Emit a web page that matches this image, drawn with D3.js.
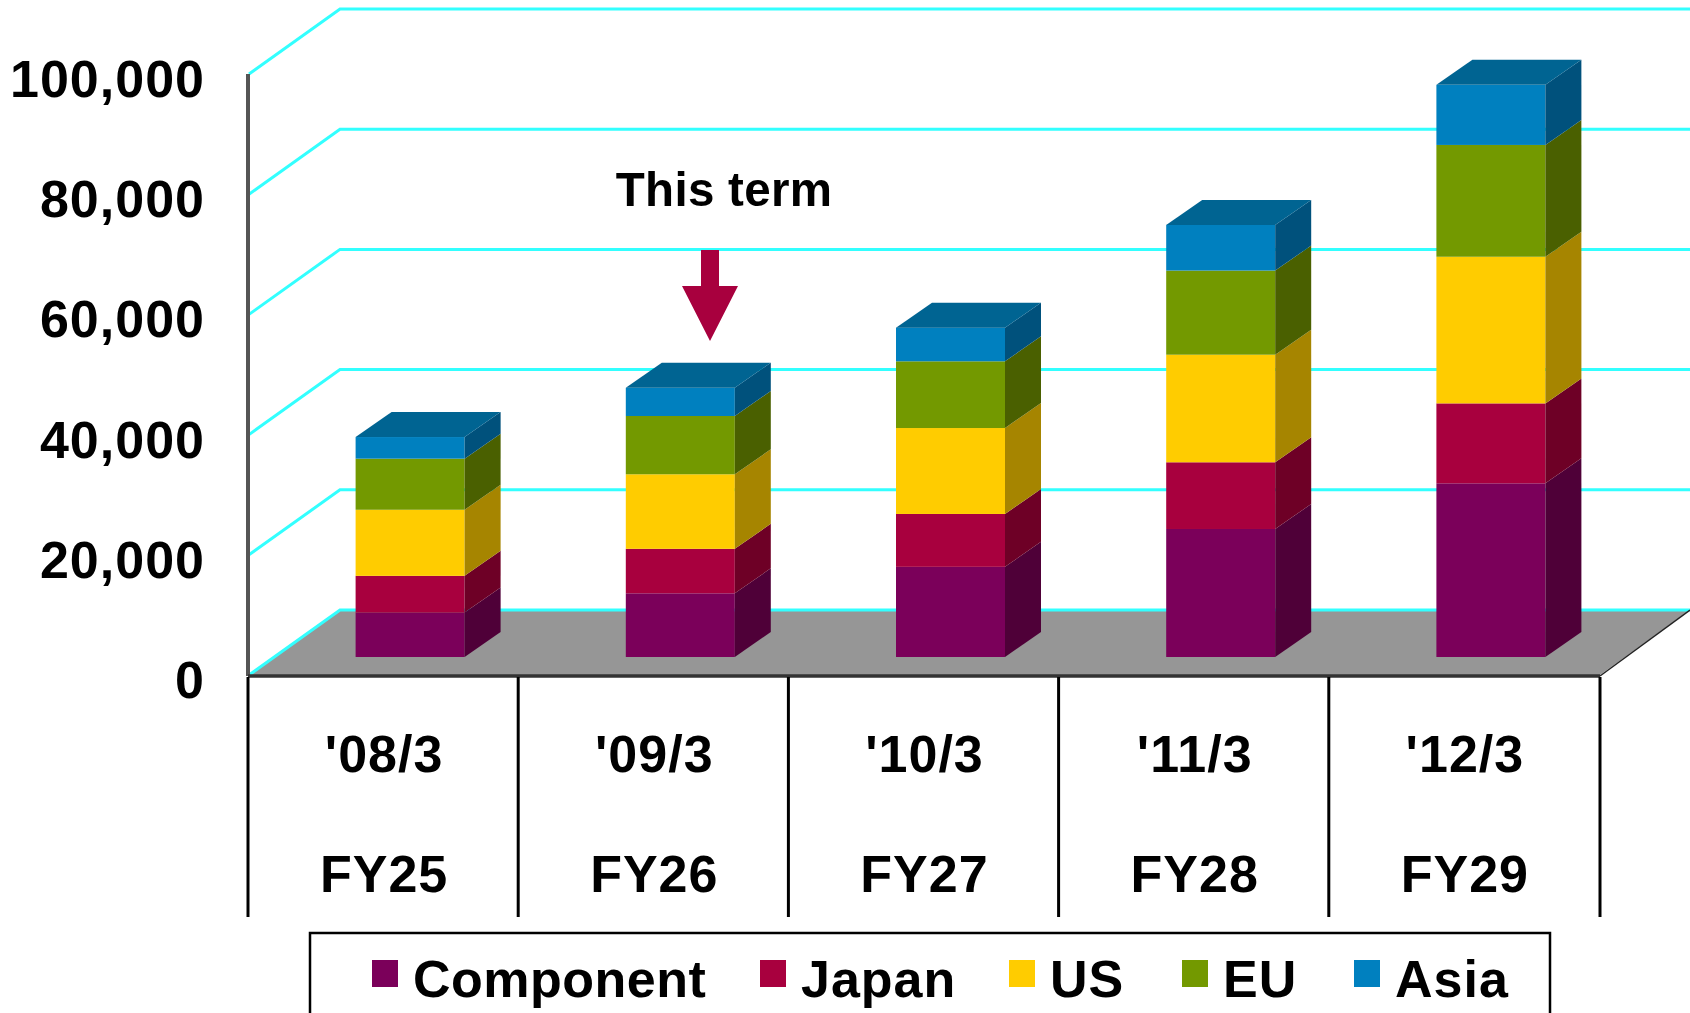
<!DOCTYPE html>
<html>
<head>
<meta charset="utf-8">
<script src="https://cdn.jsdelivr.net/npm/d3@7"></script>
<style>
html, body { margin: 0; background: #fff; overflow: hidden; }
svg { display: block; font-family: "Liberation Sans", Arial, sans-serif; font-weight: bold; filter: blur(0.6px); }
text { letter-spacing: 1px; }
</style>
</head>
<body>
<svg id="chart" width="1690" height="1013"></svg>
<script>
// Values
const terms = ["'08/3", "'09/3", "'10/3", "'11/3", "'12/3"];
const years = ["FY25", "FY26", "FY27", "FY28", "FY29"];
const seriesNames = ["Component", "Japan", "US", "EU", "Asia"];
const component = [7400, 10600, 15000, 21300, 28900];
const japan = [6100, 7400, 8800, 11100, 13300];
const us = [11000, 12400, 14300, 17900, 24400];
const eu = [8500, 9700, 11100, 14000, 18600];
const asia = [3600, 4700, 5600, 7600, 10000];
const yTicks = [0, 20000, 40000, 60000, 80000, 100000];

const frontColors = ["#7b005a", "#a8003e", "#ffcc00", "#739900", "#0080bf"];
const sideColors = ["#4f0038", "#6e0026", "#a68500", "#4a6000", "#00517c"];
const topColor = "#006492";

// Size of the chart, depth is how far the back wall is pushed
const width = 1690, height = 1013;
const x0 = 249, x1 = 1600, y0 = 675, y100 = 74;
const wallDx = 91, wallDy = -65;
const barWidth = 109, barDx = 36, barDy = -25;
const barOffsetDx = 26, barOffsetDy = -18;
const legendSwatchX = [372, 760, 1009, 1182, 1354];

const svg = d3.select("#chart");

const x = d3.scaleBand().domain(terms).range([x0, x1]);
const y = d3.scaleLinear().domain([0, 100000]).range([y0, y100]);

const rows = terms.map((t, i) => ({
  term: t,
  Component: component[i], Japan: japan[i], US: us[i], EU: eu[i], Asia: asia[i]
}));
const stacked = d3.stack().keys(seriesNames)(rows);

const poly = pts => pts.map(p => p.join(",")).join(" ");

// floor
svg.append("polygon")
  .attr("fill", "#969696")
  .attr("points", poly([[x0, y(0)], [x1, y(0)], [x1 + wallDx - 1, y(0) + wallDy], [x0 + wallDx, y(0) + wallDy]]));

// gridlines run along the left wall then along the back
svg.append("g").selectAll("polyline")
  .data(yTicks)
  .join("polyline")
  .attr("fill", "none")
  .attr("stroke", "#33ffff")
  .attr("stroke-width", 3)
  .attr("points", d => poly([[x0, y(d)], [x0 + wallDx, y(d) + wallDy], [width, y(d) + wallDy]]));

// bars
const barLeft = t => x(t) + (x.step() - barWidth) / 2 + barOffsetDx;
const layer = svg.append("g").selectAll("g")
  .data(stacked)
  .join("g");

layer.selectAll(".front")
  .data(s => s.map((d, i) => ({ d, i, s: s.index })))
  .join("rect")
  .attr("class", "front")
  .attr("x", v => barLeft(terms[v.i]))
  .attr("y", v => y(v.d[1]) + barOffsetDy)
  .attr("width", barWidth)
  .attr("height", v => y(v.d[0]) - y(v.d[1]))
  .attr("fill", v => frontColors[v.s]);

layer.selectAll(".side")
  .data(s => s.map((d, i) => ({ d, i, s: s.index })))
  .join("polygon")
  .attr("class", "side")
  .attr("fill", v => sideColors[v.s])
  .attr("points", v => {
    const l = barLeft(terms[v.i]) + barWidth;
    const a = y(v.d[0]) + barOffsetDy, b = y(v.d[1]) + barOffsetDy;
    return poly([[l, a], [l, b], [l + barDx, b + barDy], [l + barDx, a + barDy]]);
  });

// lids on the top of the stacks
svg.append("g").selectAll("polygon")
  .data(stacked[stacked.length - 1].map((d, i) => ({ d, i })))
  .join("polygon")
  .attr("fill", topColor)
  .attr("points", v => {
    const l = barLeft(terms[v.i]);
    const b = y(v.d[1]) + barOffsetDy;
    return poly([[l, b], [l + barWidth, b], [l + barWidth + barDx, b + barDy], [l + barDx, b + barDy]]);
  });

// y axis line and base line
svg.append("line")
  .attr("x1", x0 - 1).attr("x2", x0 - 1)
  .attr("y1", y(100000)).attr("y2", y(0) + 1)
  .attr("stroke", "#555").attr("stroke-width", 4);
svg.append("line")
  .attr("x1", x0 - 1).attr("x2", x1)
  .attr("y1", y(0) + 1).attr("y2", y(0) + 1)
  .attr("stroke", "#333").attr("stroke-width", 3.5);
svg.append("line")
  .attr("x1", x1).attr("x2", x1 + wallDx - 1)
  .attr("y1", y(0) + 1).attr("y2", y(0) + wallDy)
  .attr("stroke", "#222").attr("stroke-width", 1.5);

// y labels
const fmt = d3.format(",d");
svg.append("g").selectAll("text")
  .data(yTicks)
  .join("text")
  .attr("x", 205)
  .attr("y", d => y(d) + 23)
  .attr("text-anchor", "end")
  .attr("font-size", 52)
  .text(d => fmt(d));

// dividers below the floor
const cuts = terms.map(t => x(t) - 1).concat([x1]);
svg.append("g").selectAll("line")
  .data(cuts)
  .join("line")
  .attr("x1", d => d).attr("x2", d => d)
  .attr("y1", y(0) + 2).attr("y2", 917)
  .attr("stroke", "#000").attr("stroke-width", 3);

const labels = svg.append("g").attr("text-anchor", "middle").attr("font-size", 52);
labels.selectAll(".term")
  .data(terms)
  .join("text")
  .attr("class", "term")
  .attr("x", d => x(d) + x.step() / 2)
  .attr("y", 772)
  .text(d => d);
labels.selectAll(".year")
  .data(years)
  .join("text")
  .attr("class", "year")
  .attr("x", (d, i) => x(terms[i]) + x.step() / 2)
  .attr("y", 892)
  .text(d => d);

// this term note
svg.append("text")
  .attr("x", 724).attr("y", 206)
  .attr("text-anchor", "middle")
  .attr("font-size", 47.5)
  .style("letter-spacing", "0.3px")
  .text("This term");
svg.append("polygon")
  .attr("fill", "#a8003e")
  .attr("points", poly([[701, 250], [719, 250], [719, 286], [738, 286], [710, 341], [682, 286], [701, 286]]));

// legend
svg.append("rect")
  .attr("x", 310).attr("y", 933)
  .attr("width", 1240).attr("height", 120)
  .attr("fill", "#fff").attr("stroke", "#000").attr("stroke-width", 2.5);

seriesNames.forEach((name, i) => {
  svg.append("rect")
    .attr("x", legendSwatchX[i]).attr("y", 960)
    .attr("width", 26).attr("height", 27)
    .attr("fill", frontColors[i]);
  svg.append("text")
    .attr("x", legendSwatchX[i] + 41).attr("y", 997)
    .attr("font-size", 52)
    .style("letter-spacing", i === 0 ? "0.5px" : null)
    .text(name);
});
</script>
</body>
</html>
